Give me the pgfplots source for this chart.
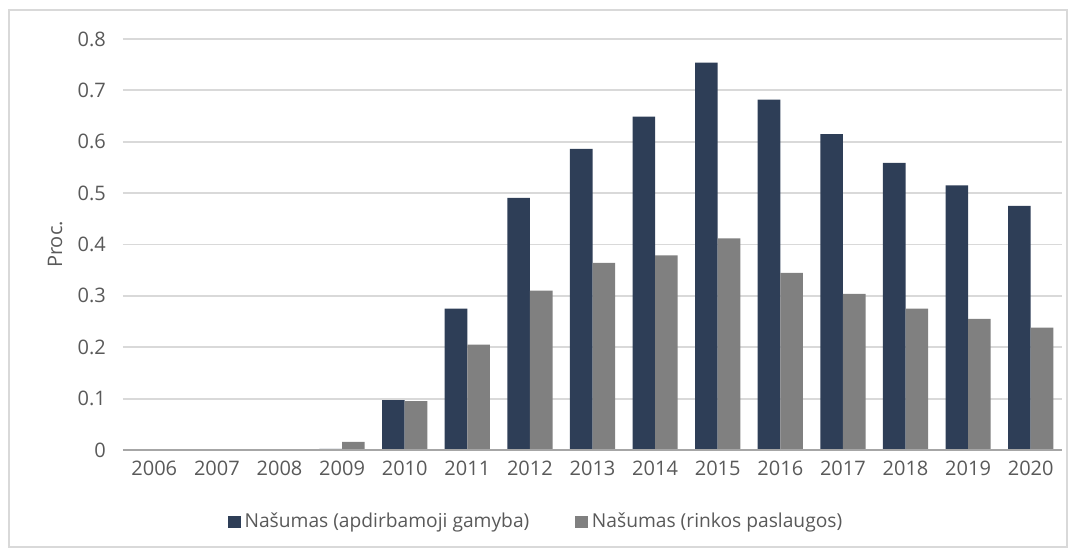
\documentclass[border=0pt]{standalone}
\usepackage{fontspec}
\setmainfont{Open Sans}
\usepackage{pgfplots}
\pgfplotsset{compat=1.18}
\definecolor{navy}{RGB}{46,62,87}
\definecolor{gbar}{RGB}{128,128,128}
\definecolor{txt}{RGB}{89,89,89}
\definecolor{gridc}{RGB}{217,217,217}
\definecolor{basec}{RGB}{166,166,166}
\begin{document}
\begin{tikzpicture}
\useasboundingbox (-61.5pt,-53pt) rectangle (476.5pt,225pt);
\draw[gridc, line width=0.75pt] (-57pt,-48.5pt) rectangle (472pt,220pt);
\begin{axis}[
  at={(0pt,0pt)}, anchor=south west,
  scale only axis, width=469.5pt, height=205.5pt,
  ybar=0pt, bar width=11.3pt,
  xmin=-0.5, xmax=14.5, ymin=0, ymax=0.8,
  xtick={0,...,14},
  xticklabels={2006,2007,2008,2009,2010,2011,2012,2013,2014,2015,2016,2017,2018,2019,2020},
  ytick={0,0.1,...,0.8},
  yticklabels={0,0.1,0.2,0.3,0.4,0.5,0.6,0.7,0.8},
  major tick length=0pt,
  axis line style={draw=none},
  ymajorgrids, xmajorgrids=false, grid style={draw=gridc, line width=0.9pt},
  tick label style={font=\fontsize{10}{12}\selectfont, text=txt},
  yticklabel style={xshift=-5pt},
  xticklabel style={yshift=-2pt},
  ylabel={Proc.},
  ylabel style={at={(axis description cs:-0.0724,0.5)}, anchor=center, font=\fontsize{10}{12}\selectfont, text=txt},
  legend style={at={(0.441,-0.175)}, anchor=center, draw=none, fill=none,
    legend columns=2, font=\fontsize{9.6}{12}\selectfont, text=txt,
    /tikz/every even column/.append style={column sep=21pt},
    inner sep=0pt, cells={anchor=west}},
  legend image code/.code={\fill[#1] (0pt,-3.1pt) rectangle (6.3pt,3.2pt);},
  clip=false,
]
\addplot[fill=navy, draw=none] coordinates {
(0,0) (1,0) (2,0) (3,0.002) (4,0.097) (5,0.275) (6,0.491) (7,0.586) (8,0.649) (9,0.754) (10,0.682) (11,0.615) (12,0.559) (13,0.515) (14,0.475)};
\addplot[fill=gbar, draw=none] coordinates {
(0,0) (1,0) (2,0) (3,0.016) (4,0.095) (5,0.205) (6,0.310) (7,0.364) (8,0.379) (9,0.412) (10,0.345) (11,0.304) (12,0.275) (13,0.255) (14,0.238)};
\legend{Našumas (apdirbamoji gamyba), Našumas (rinkos paslaugos)}
\draw[basec, line width=1pt] (axis cs:-0.5,0) -- (axis cs:14.5,0);
\end{axis}
\end{tikzpicture}
\end{document}
